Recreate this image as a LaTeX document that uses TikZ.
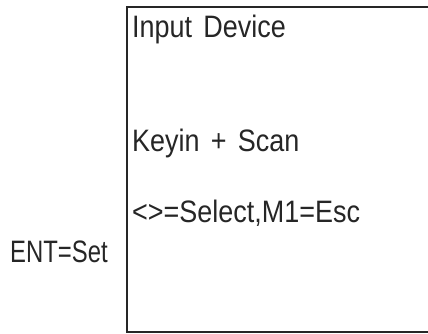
\documentclass[tikz,border=0pt]{standalone}
\usepackage{fontspec}
\setmainfont[FakeStretch=0.87,WordSpace=1.5]{Liberation Sans}
\usepackage{tikz}

\begin{document}
\begin{tikzpicture}[x=1pt,y=-1pt,
  lbl/.style={anchor=base west, inner sep=0pt, font=\fontsize{31}{34}\selectfont, text=black!85}]
\useasboundingbox (0,0) rectangle (428,333);
\draw [line width=1.4pt, black!85] (127,7) rectangle (445,332);
\node[lbl] (title) at (132,37) {Input Device};
\node[lbl] (mode) at (132,151) {Keyin + Scan};
\node[lbl] (keys) at (132,222) {<>=Select,M1=Esc};
\node[lbl, font=\fontsize{31}{34}\selectfont\addfontfeatures{FakeStretch=0.77}] (ent) at (10,262) {ENT=Set};
\end{tikzpicture}
\end{document}
